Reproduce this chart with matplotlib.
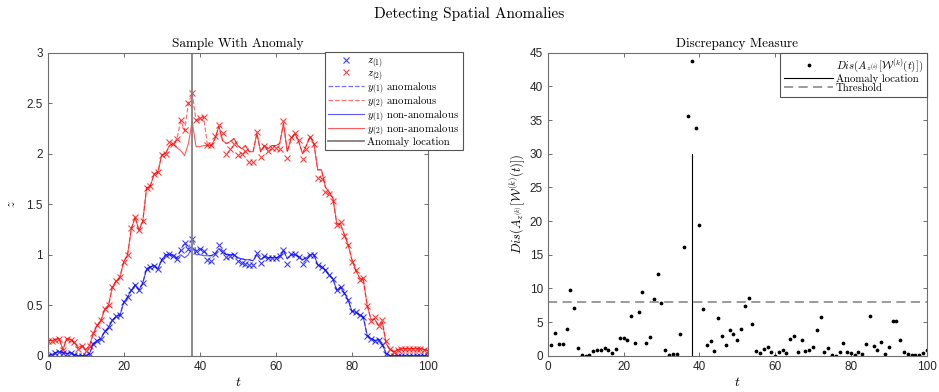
import matplotlib
matplotlib.use("Agg")
import matplotlib.pyplot as plt
import numpy as np

plt.rcParams['mathtext.fontset'] = 'cm'
plt.rcParams['axes.unicode_minus'] = False

# ===== Data: left panel (sample with anomaly) =====
t = np.arange(0, 101)

z1 = [0.00, 0.01, 0.03, 0.04, 0.03, 0.02, 0.03, 0.01, 0.00, 0.00,
      0.00, 0.02, 0.12, 0.15, 0.17, 0.24, 0.28, 0.35, 0.39, 0.40,
      0.53, 0.58, 0.65, 0.70, 0.65, 0.72, 0.86, 0.88, 0.89, 0.86,
      0.95, 1.00, 1.01, 0.99, 0.96, 1.05, 1.12, 1.06, 1.16, 1.04,
      1.06, 1.04, 0.95, 0.94, 1.01, 1.10, 1.04, 0.98, 0.99, 1.00,
      0.94, 0.92, 0.91, 0.90, 0.90, 1.02, 0.92, 0.99, 0.97, 0.97,
      0.97, 0.99, 1.05, 0.91, 1.01, 1.01, 0.98, 0.91, 0.96, 1.00,
      1.00, 0.90, 0.88, 0.85, 0.80, 0.76, 0.65, 0.68, 0.62, 0.55,
      0.44, 0.43, 0.40, 0.38, 0.20, 0.17, 0.15, 0.16, 0.11, 0.02,
      0.00, 0.00, 0.00, 0.00, 0.00, 0.00, 0.00, 0.00, 0.00, 0.00, 0.00]

z2 = [0.15, 0.15, 0.16, 0.17, 0.06, 0.17, 0.16, 0.14, 0.07, 0.10,
      0.05, 0.10, 0.22, 0.30, 0.35, 0.46, 0.50, 0.68, 0.74, 0.78,
      0.93, 1.00, 1.26, 1.37, 1.24, 1.33, 1.66, 1.68, 1.80, 1.82,
      1.99, 2.00, 2.12, 2.10, 2.15, 2.33, 2.23, 2.50, 2.60, 2.33,
      2.35, 2.36, 2.09, 2.09, 2.18, 2.28, 2.20, 2.00, 2.05, 2.10,
      1.99, 2.00, 2.03, 1.92, 1.92, 2.21, 1.97, 2.08, 2.03, 2.06,
      2.06, 2.05, 2.32, 1.96, 2.17, 2.20, 2.14, 1.95, 2.05, 2.17,
      2.10, 1.76, 1.75, 1.62, 1.60, 1.53, 1.29, 1.32, 1.19, 1.10,
      0.93, 0.85, 0.75, 0.77, 0.49, 0.34, 0.38, 0.29, 0.35, 0.15,
      0.07, 0.04, 0.06, 0.07, 0.07, 0.07, 0.07, 0.07, 0.07, 0.06, 0.05]

# non-anomalous fits
y1 = [0.00, 0.01, 0.03, 0.04, 0.03, 0.02, 0.03, 0.01, 0.00, 0.00,
      0.00, 0.02, 0.12, 0.15, 0.17, 0.24, 0.28, 0.35, 0.39, 0.40,
      0.53, 0.58, 0.65, 0.70, 0.65, 0.72, 0.86, 0.88, 0.89, 0.86,
      0.95, 1.00, 1.00, 1.00, 0.97, 1.00, 0.97, 1.00, 1.08, 1.00,
      1.00, 0.99, 0.99, 0.99, 1.01, 1.06, 1.02, 1.00, 1.00, 1.00,
      0.97, 0.96, 0.95, 0.95, 0.94, 1.00, 0.95, 0.98, 0.97, 0.97,
      0.97, 0.98, 1.04, 0.96, 1.00, 1.00, 0.98, 0.95, 0.97, 1.00,
      1.00, 0.90, 0.88, 0.85, 0.80, 0.76, 0.65, 0.68, 0.62, 0.55,
      0.44, 0.43, 0.40, 0.38, 0.20, 0.17, 0.15, 0.16, 0.11, 0.02,
      0.00, 0.00, 0.00, 0.00, 0.00, 0.00, 0.00, 0.00, 0.00, 0.00, 0.00]

y2 = [0.15, 0.15, 0.16, 0.17, 0.06, 0.17, 0.16, 0.13, 0.08, 0.10,
      0.06, 0.10, 0.22, 0.30, 0.35, 0.46, 0.50, 0.68, 0.74, 0.78,
      0.93, 1.00, 1.26, 1.37, 1.24, 1.33, 1.66, 1.68, 1.80, 1.82,
      1.99, 2.00, 2.08, 2.10, 2.06, 2.03, 1.98, 2.10, 2.32, 2.07,
      2.07, 2.08, 2.08, 2.08, 2.15, 2.27, 2.13, 2.10, 2.12, 2.15,
      2.08, 2.05, 2.08, 2.02, 2.02, 2.20, 2.02, 2.08, 2.05, 2.08,
      2.08, 2.10, 2.30, 2.02, 2.15, 2.20, 2.12, 2.00, 2.08, 2.17,
      2.10, 1.84, 1.84, 1.67, 1.62, 1.56, 1.31, 1.30, 1.20, 1.10,
      0.95, 0.85, 0.77, 0.75, 0.50, 0.36, 0.36, 0.30, 0.33, 0.12,
      0.06, 0.04, 0.06, 0.07, 0.07, 0.07, 0.07, 0.07, 0.07, 0.06, 0.05]

# anomalous fits differ only inside this window
anom_t = np.arange(33, 44)
y1_anom_win = [0.99, 0.96, 1.05, 1.12, 1.06, 1.16, 1.04, 1.06, 1.04, 0.99, 0.99]
y2_anom_win = [2.10, 2.15, 2.33, 2.23, 2.50, 2.60, 2.33, 2.35, 2.36, 2.09, 2.08]
anomaly_t = 38

# ===== Data: right panel (discrepancy) =====
t_dis = np.arange(1, 101)
dis = [1.6, 3.4, 1.8, 1.7, 3.9, 9.7, 7.1, 1.1, 0.1, 0.0,
       0.15, 0.7, 0.8, 0.8, 1.1, 0.8, 0.35, 0.95, 2.6, 2.7,
       2.3, 5.9, 1.9, 6.5, 9.4, 1.9, 2.8, 8.4, 12.2, 7.9,
       0.9, 0.05, 0.2, 0.2, 3.2, 16.2, 35.6, 43.8, 33.8, 19.4,
       6.9, 1.6, 2.2, 0.7, 5.65, 3.0, 1.6, 3.8, 3.2, 2.3,
       3.9, 7.4, 8.6, 4.7, 0.7, 0.35, 0.95, 1.3, 0.6, 0.0,
       0.6, 0.9, 0.4, 2.5, 2.9, 0.6, 2.4, 0.7, 0.8, 1.3,
       3.8, 5.7, 0.6, 1.1, 0.15, 0.0, 0.55, 1.9, 0.6, 0.35,
       0.15, 0.5, 0.25, 1.7, 5.9, 1.4, 0.8, 2.0, 0.25, 1.3,
       5.15, 5.2, 2.3, 0.5, 0.2, 0.15, 0.15, 0.1, 0.35, 0.85]
threshold = 8
anomaly_line_top = 30

# ===== Styling =====
W, H = 939, 392
tick_col = '#262626'
spine_col = '#6e6e6e'
blue = '#0000ff'
red = '#ff0000'
leg_font = {'family': 'cmr10', 'size': 7.8}


def style_axes(ax):
    for s in ax.spines.values():
        s.set_color(spine_col)
        s.set_linewidth(0.8)
    ax.tick_params(direction='in', length=3, width=0.7, colors=spine_col,
                   labelcolor=tick_col, labelsize=8.5, top=True, right=True)
    for lab in ax.get_xticklabels() + ax.get_yticklabels():
        lab.set_family('Liberation Sans')


fig = plt.figure(figsize=(W / 100, H / 100), dpi=100)
ax1 = fig.add_axes([47.7 / W, 36.3 / H, 380.3 / W, 303 / H])
ax2 = fig.add_axes([547.7 / W, 36.3 / H, 379 / W, 303 / H])

# ===== Left panel =====
y1a = np.array(y1, dtype=float)
y2a = np.array(y2, dtype=float)
y1a[anom_t] = y1_anom_win
y2a[anom_t] = y2_anom_win

ax1.plot(t, z1, 'x', color=blue, ms=4.2, mew=0.8, alpha=0.75, label=r'$z_{(1)}$')
ax1.plot(t, z2, 'x', color=red, ms=4.2, mew=0.8, alpha=0.75, label=r'$z_{(2)}$')
ax1.plot(t, y1a, '--', color=blue, lw=0.9, alpha=0.55, label=r'$y_{(1)}$ anomalous')
ax1.plot(t, y2a, '--', color=red, lw=0.9, alpha=0.55, label=r'$y_{(2)}$ anomalous')
ax1.plot(t, y1, '-', color=blue, lw=0.8, alpha=0.65, label=r'$y_{(1)}$ non-anomalous')
ax1.plot(t, y2, '-', color=red, lw=0.8, alpha=0.65, label=r'$y_{(2)}$ non-anomalous')
ax1.axvline(anomaly_t, color='#808080', lw=1.3, label='Anomaly location')

ax1.set_xlim(0, 100)
ax1.set_ylim(0, 3)
ax1.set_xticks(np.arange(0, 101, 20))
ax1.set_yticks(np.arange(0, 3.01, 0.5))
ax1.set_yticklabels(['0', '0.5', '1', '1.5', '2', '2.5', '3'])
style_axes(ax1)
ax1.set_xlabel(r'$t$', fontsize=10, labelpad=2)
ax1.set_ylabel(r'$z$', fontsize=9, labelpad=6)
ax1.set_title('Sample With Anomaly', family='cmr10', fontsize=9.5, pad=4)

leg1 = ax1.legend(loc='upper right', bbox_to_anchor=(463 / W, 1 - 52 / H),
                  bbox_transform=fig.transFigure, borderaxespad=0,
                  prop=leg_font, frameon=True,
                  fancybox=False, edgecolor='#555555', framealpha=1,
                  handlelength=3.3, handletextpad=0.3, labelspacing=-0.1,
                  borderpad=0.35)
leg1.get_frame().set_linewidth(0.8)

# ===== Right panel =====
ax2.plot(t_dis, dis, 'o', color='k', ms=1.7, ls='none',
         label=r'$Dis(A_{z^{(k)}}[\mathcal{W}^{(k)}(t)])$')
ax2.plot([anomaly_t, anomaly_t], [0, anomaly_line_top], '-', color='k', lw=0.8,
         label='Anomaly location')
ax2.axhline(threshold, color='#808080', lw=1.1, dashes=(6, 3.5), label='Threshold')

ax2.set_xlim(0, 100)
ax2.set_ylim(0, 45)
ax2.set_xticks(np.arange(0, 101, 20))
ax2.set_yticks(np.arange(0, 46, 5))
style_axes(ax2)
ax2.set_xlabel(r'$t$', fontsize=10, labelpad=2)
ax2.set_ylabel(r'$Dis(A_{z^{(k)}}[\mathcal{W}^{(k)}(t)])$', fontsize=9, labelpad=1)
ax2.set_title('Discrepancy Measure', family='cmr10', fontsize=9.5, pad=4)

leg2 = ax2.legend(loc='upper right', borderaxespad=0,
                  prop=leg_font, frameon=True,
                  fancybox=False, edgecolor='#555555', framealpha=1,
                  handlelength=4.6, handletextpad=0.2, labelspacing=-0.05,
                  borderpad=0.35)
leg2.get_frame().set_linewidth(0.8)

fig.text(0.5, 1 - 14 / H, 'Detecting Spatial Anomalies', family='cmr10',
         fontsize=11, ha='center', va='center')

fig.savefig('out.png', dpi=100)
